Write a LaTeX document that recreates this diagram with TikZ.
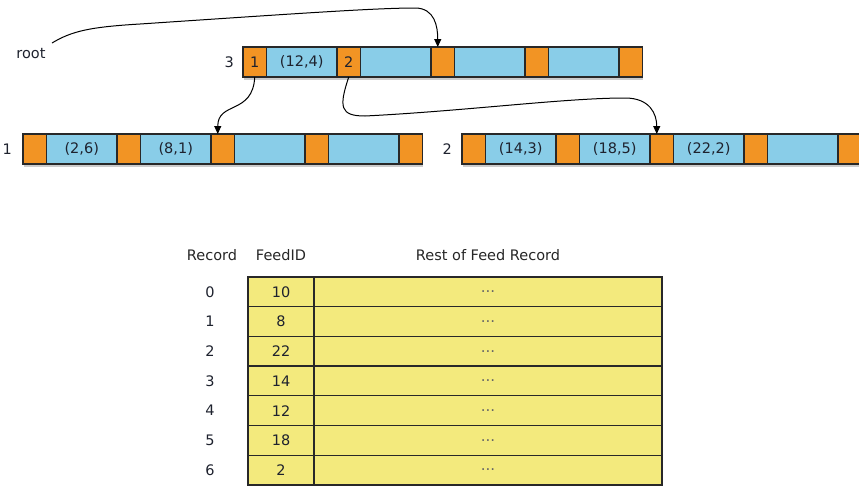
\documentclass[tikz,border=0pt]{standalone}
\usepackage{fontspec}
\setmainfont{DejaVu Sans}
\usepackage{xcolor}
\usepackage{tikz}
\usetikzlibrary{arrows.meta, positioning, shadows}

\definecolor{ptrorange}{RGB}{242,148,36}
\definecolor{keyblue}{RGB}{137,205,232}
\definecolor{rowyellow}{RGB}{243,234,125}
\definecolor{edge}{RGB}{40,40,40}
\definecolor{ink}{RGB}{30,34,46}

\begin{document}
\begin{tikzpicture}[
    x=1pt, y=-1pt,
    cell/.style={draw=edge, line width=1.3pt, minimum height=30pt, inner sep=0pt, outer sep=0pt,
      font=\fontsize{14.5}{16}\selectfont, text=ink,
      drop shadow={shadow xshift=0.8pt, shadow yshift=-3pt, opacity=0.4}},
    ptr/.style={cell, fill=ptrorange, minimum width=23.5pt},
    key/.style={cell, fill=keyblue, minimum width=70.5pt},
    row/.style={draw=edge, line width=1.3pt, fill=rowyellow, minimum height=29.7pt, inner sep=0pt, outer sep=0pt,
      font=\fontsize{14.5}{16}\selectfont, text=ink,
      drop shadow={shadow xshift=0.8pt, shadow yshift=-3pt, opacity=0.4}},
    idcell/.style={row, minimum width=66pt},
    restcell/.style={row, minimum width=348pt, font=\fontsize{15}{16}\selectfont, text=black!60},
    lbl/.style={inner sep=0pt, font=\fontsize{14.5}{16}\selectfont, text=ink},
    hdr/.style={inner sep=0pt, font=\fontsize{14.5}{16}\selectfont, text=black!85},
    arr/.style={-{Triangle[length=8pt, width=7pt]}, line width=1pt},
  ]
  \useasboundingbox (0,0) rectangle (859,485);

  % page 3 (root)
  \node[ptr] (t0) at (254.75,62) {1};
  \node[key, right=0pt of t0] (t1) {(12,4)};
  \node[ptr, right=0pt of t1] (t2) {2};
  \node[key, right=0pt of t2] (t3) {};
  \node[ptr, right=0pt of t3] (t4) {};
  \node[key, right=0pt of t4] (t5) {};
  \node[ptr, right=0pt of t5] (t6) {};
  \node[key, right=0pt of t6] (t7) {};
  \node[ptr, right=0pt of t7] (t8) {};
  \node[lbl, left=9pt of t0] (lab3) {3};

  % page 1
  \node[ptr] (a0) at (34.75,149) {};
  \node[key, right=0pt of a0] (a1) {(2,6)};
  \node[ptr, right=0pt of a1] (a2) {};
  \node[key, right=0pt of a2] (a3) {(8,1)};
  \node[ptr, right=0pt of a3] (a4) {};
  \node[key, right=0pt of a4] (a5) {};
  \node[ptr, right=0pt of a5] (a6) {};
  \node[key, right=0pt of a6] (a7) {};
  \node[ptr, right=0pt of a7] (a8) {};
  \node[lbl, left=11pt of a0] (lab1) {1};

  % page 2
  \node[ptr] (b0) at (473.75,149) {};
  \node[key, right=0pt of b0] (b1) {(14,3)};
  \node[ptr, right=0pt of b1] (b2) {};
  \node[key, right=0pt of b2] (b3) {(18,5)};
  \node[ptr, right=0pt of b3] (b4) {};
  \node[key, right=0pt of b4] (b5) {(22,2)};
  \node[ptr, right=0pt of b5] (b6) {};
  \node[key, right=0pt of b6] (b7) {};
  \node[ptr, right=0pt of b7] (b8) {};
  \node[lbl, left=10pt of b0] (lab2) {2};

  % root pointer
  \node[lbl] (root) at (31,54) {root};
  \coordinate (rootend) at (52,43);
  \draw[arr] (rootend) .. controls +(20,-12) and +(-50,3) .. (140,24)
    .. controls +(150,-10) and +(-40,0) .. (415,8)
    .. controls +(20,0) and +(0,-20) .. ([xshift=-5pt]t4.north);

  % child pointers
  \draw[arr] (t0.south) .. controls +(-2,38) and +(0,-33) .. ([xshift=-5pt]a4.north);
  \draw[arr] (t2.south) .. controls +(-10,30) and +(-25,0) .. (365,116)
    .. controls +(100,-5) and +(-60,0) .. (625,98)
    .. controls +(25,0) and +(0,-20) .. ([xshift=-5pt]b4.north);

  % feed records
  \node[hdr] (hrec) at (212,255) {Record};
  \node[hdr] (hfeed) at (281,255) {FeedID};
  \node[hdr] (hrest) at (488,255) {Rest of Feed Record};

  \node[idcell] (f0) at (281,291.85) {10};
  \node[restcell, right=0pt of f0] (d0) {...};
  \node[lbl] (r0) at (210,291.85) {0};
  \node[idcell, below=0pt of f0] (f1) {8};
  \node[restcell, right=0pt of f1] (d1) {...};
  \node[lbl] (r1) at (r0 |- f1) {1};
  \node[idcell, below=0pt of f1] (f2) {22};
  \node[restcell, right=0pt of f2] (d2) {...};
  \node[lbl] (r2) at (r0 |- f2) {2};
  \node[idcell, below=0pt of f2] (f3) {14};
  \node[restcell, right=0pt of f3] (d3) {...};
  \node[lbl] (r3) at (r0 |- f3) {3};
  \node[idcell, below=0pt of f3] (f4) {12};
  \node[restcell, right=0pt of f4] (d4) {...};
  \node[lbl] (r4) at (r0 |- f4) {4};
  \node[idcell, below=0pt of f4] (f5) {18};
  \node[restcell, right=0pt of f5] (d5) {...};
  \node[lbl] (r5) at (r0 |- f5) {5};
  \node[idcell, below=0pt of f5] (f6) {2};
  \node[restcell, right=0pt of f6] (d6) {...};
  \node[lbl] (r6) at (r0 |- f6) {6};
\end{tikzpicture}
\end{document}
